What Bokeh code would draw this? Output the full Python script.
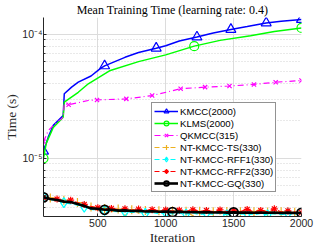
import numpy as np
from bokeh.plotting import figure
from bokeh.models import (Range1d, FixedTicker, CustomJSTickFormatter,
                          Legend, LegendItem)
from bokeh.embed import file_html
from bokeh.resources import INLINE

# ---------------- data ----------------
kmcc_x = [100, 135, 172, 208, 245, 253, 307, 356, 450, 520, 550, 700, 800, 930, 1000,
          1100, 1230, 1350, 1480, 1600, 1740, 1850, 2000]
kmcc_y = [1.14e-5, 1.48e-5, 1.84e-5, 2.01e-5, 2.21e-5, 3.31e-5, 3.74e-5, 4.10e-5, 4.60e-5,
          5.29e-5, 5.55e-5, 6.50e-5, 7.10e-5, 7.70e-5, 8.05e-5, 8.80e-5, 9.46e-5, 1.02e-4,
          1.09e-4, 1.15e-4, 1.23e-4, 1.27e-4, 1.31e-4]
kmcc_mk = [100, 550, 930, 1230, 1480, 1740, 2000]

klms_x = [100, 120, 172, 245, 253, 356, 430, 592, 800, 1000, 1210, 1400, 1625, 1800, 2000]
klms_y = [1.00e-5, 1.32e-5, 1.77e-5, 2.14e-5, 2.83e-5, 3.40e-5, 3.98e-5, 5.10e-5, 6.00e-5,
          6.80e-5, 8.00e-5, 8.90e-5, 9.70e-5, 1.05e-4, 1.12e-4]
klms_mk = [100, 1210, 2000]

qkmcc_x = [100, 135, 172, 245, 253, 285, 430, 494, 710, 900, 1110, 1290, 1470, 1650,
           1810, 2000]
qkmcc_y = [1.36e-5, 1.67e-5, 1.84e-5, 2.14e-5, 2.76e-5, 2.70e-5, 2.92e-5, 2.95e-5, 3.01e-5,
           3.20e-5, 3.63e-5, 3.74e-5, 3.82e-5, 3.93e-5, 4.10e-5, 4.23e-5]
qkmcc_mk = [100, 285, 494, 710, 900, 1110, 1290, 1470, 1650, 1810, 2000]

nt_x = list(range(100, 2001, 50))
ts_y = [4.95, 4.80, 4.50, 4.60, 4.35, 4.40, 4.05, 4.05, 3.80, 3.95, 3.70, 3.90, 3.45, 3.85,
        3.62, 3.80, 3.68, 3.78, 3.60, 3.76, 3.65, 3.75, 3.45, 3.74, 3.62, 3.72, 3.57, 3.73,
        3.60, 3.71, 3.50, 3.72, 3.90, 3.70, 3.57, 3.71, 3.60, 3.68, 3.62]
rff1_y = [4.90, 4.65, 4.55, 4.40, 4.30, 4.20, 4.05, 3.88, 3.82, 3.80, 3.75, 3.72, 3.70, 3.66,
          3.68, 3.60, 3.66, 3.58, 3.64, 3.56, 3.62, 3.55, 3.64, 3.52, 3.60, 3.54, 3.62, 3.50,
          3.61, 3.55, 3.58, 3.52, 3.60, 3.50, 3.58, 3.52, 3.60, 3.55, 3.62]
rff2_y = [4.80, 4.78, 4.70, 4.55, 4.60, 4.40, 4.25, 4.10, 4.00, 3.92, 3.95, 3.86, 3.92, 3.82,
          3.90, 3.80, 3.86, 3.78, 3.84, 3.76, 3.82, 3.75, 3.85, 3.74, 3.80, 3.73, 3.84, 3.72,
          3.78, 3.72, 3.88, 3.70, 3.80, 3.71, 3.92, 3.70, 3.78, 3.70, 3.66]
gq_y = [4.85, 4.70, 4.62, 4.48, 4.44, 4.28, 4.14, 3.95, 3.92, 3.85, 3.85, 3.79, 3.81, 3.76,
        3.78, 3.73, 3.75, 3.71, 3.73, 3.69, 3.72, 3.68, 3.70, 3.67, 3.69, 3.66, 3.68, 3.65,
        3.67, 3.65, 3.66, 3.64, 3.66, 3.64, 3.65, 3.63, 3.65, 3.63, 3.64]
nt_scale = 1e-6
ts_mk = list(range(150, 2001, 100))
rff1_mk = list(range(100, 2001, 150))
rff2_mk = list(range(100, 2001, 100))
gq_mk = [100, 550, 1050, 1500, 2000]

x_ticks = [500, 1000, 1500, 2000]
y_ticks = [1e-5, 1e-4]
y_minor = [4e-6, 5e-6, 6e-6, 7e-6, 8e-6, 9e-6, 2e-5, 3e-5, 4e-5, 5e-5, 6e-5, 7e-5,
           8e-5, 9e-5]

names = ["KMCC(2000)", "KLMS(2000)", "QKMCC(315)", "NT-KMCC-TS(330)",
         "NT-KMCC-RFF1(330)", "NT-KMCC-RFF2(330)", "NT-KMCC-GQ(330)"]

# ---------------- figure ----------------
p = figure(width=332, height=249, x_range=Range1d(100, 2000),
           y_range=Range1d(3.4e-6, 1.36e-4), y_axis_type="log",
           output_backend="svg", toolbar_location=None,
           min_border_left=43, min_border_right=31, min_border_top=17, min_border_bottom=33)
p.outline_line_color = None
p.background_fill_color = "white"
p.border_fill_color = "white"

serif = "Liberation Serif"
p.title.text = "Mean Training Time (learning rate: 0.4)"
p.title.align = "center"
p.title.text_font = serif
p.title.text_font_size = "12px"
p.title.text_font_style = "normal"
p.title.text_color = "#000000"
p.title.standoff = 1

axc = "#262626"
for ax in (p.xaxis[0], p.yaxis[0]):
    ax.axis_line_color = axc
    ax.axis_line_width = 1
    ax.major_tick_line_color = axc
    ax.minor_tick_line_color = axc
    ax.major_tick_in = 3
    ax.major_tick_out = 0
    ax.minor_tick_in = 2
    ax.minor_tick_out = 0
    ax.major_label_text_font = "Liberation Sans"
    ax.major_label_text_font_size = "10.5px"
    ax.major_label_text_color = axc
    ax.axis_label_text_font = serif
    ax.axis_label_text_font_size = "13.5px"
    ax.axis_label_text_font_style = "normal"
    ax.axis_label_text_color = axc

p.xaxis.ticker = FixedTicker(ticks=x_ticks)
p.xaxis.major_label_standoff = 2
p.xaxis.axis_label = "Iteration"
p.xaxis.axis_label_standoff = 0

p.yaxis.ticker = FixedTicker(ticks=y_ticks, minor_ticks=y_minor)
p.yaxis.major_label_standoff = 1
p.yaxis.axis_label = "Time (s)"
p.yaxis.axis_label_standoff = 0
p.yaxis.formatter = CustomJSTickFormatter(code="""
const e = Math.round(Math.log10(tick));
const m = {'-':'\u207b','0':'\u2070','1':'\u00b9','2':'\u00b2','3':'\u00b3','4':'\u2074',
           '5':'\u2075','6':'\u2076','7':'\u2077','8':'\u2078','9':'\u2079'};
return '10' + String(e).split('').map(c => m[c]).join('');
""")

p.xgrid.grid_line_color = "#dcdcdc"
p.ygrid.grid_line_color = "#dcdcdc"
p.ygrid.minor_grid_line_color = "#d2d2d2"
p.ygrid.minor_grid_line_dash = "1 2"

def sel(xs, ys, mk):
    idx = [list(xs).index(v) for v in mk]
    return [xs[i] for i in idx], [ys[i] for i in idx]

items = []

def series(xs, ys, mk, color, lw, dash, marker, msize, mlw, name):
    l = p.line(xs, ys, line_color=color, line_width=lw, line_dash=dash)
    mx, my = sel(xs, ys, mk)
    s = p.scatter(mx, my, marker=marker, size=msize, line_color=color, line_width=mlw,
                  fill_color=None)
    items.append(LegendItem(label=name, renderers=[l, s]))

ts_v = [v * nt_scale for v in ts_y]
rff1_v = [v * nt_scale for v in rff1_y]
rff2_v = [v * nt_scale for v in rff2_y]
gq_v = [v * nt_scale for v in gq_y]

series(kmcc_x, kmcc_y, kmcc_mk, "#0000FF", 1.5, "solid", "triangle", 10, 1.2, names[0])
series(klms_x, klms_y, klms_mk, "#00FF00", 1.5, "solid", "circle", 9, 1.2, names[1])
series(qkmcc_x, qkmcc_y, qkmcc_mk, "#FF00FF", 1.2, "6 3 1 3", "x", 6, 1.2, names[2])
series(nt_x, ts_v, ts_mk, "#EDB120", 1.2, "5 3", "cross", 9, 1.2, names[3])
series(nt_x, rff1_v, rff1_mk, "#00FFFF", 1.2, "5 3", "diamond", 10, 1.2, names[4])
series(nt_x, rff2_v, rff2_mk, "#FF0000", 1.2, "5 3", "asterisk", 7, 1.2, names[5])
series(nt_x, gq_v, gq_mk, "#000000", 2.6, "solid", "circle", 9, 1.8, names[6])

leg = Legend(items=items, location=(108, 24), orientation="vertical")
leg.border_line_color = axc
leg.border_line_width = 1
leg.background_fill_color = "white"
leg.background_fill_alpha = 1
leg.label_text_font = "Arial"
leg.label_text_font_size = "9.6px"
leg.label_text_color = "#000000"
leg.glyph_width = 24
leg.glyph_height = 12
leg.label_height = 12
leg.spacing = 0
leg.padding = 2
leg.margin = 0
leg.label_standoff = 2
leg.label_text_baseline = "middle"
p.add_layout(leg, "center")

open("out.html", "w").write(file_html(p, INLINE))
